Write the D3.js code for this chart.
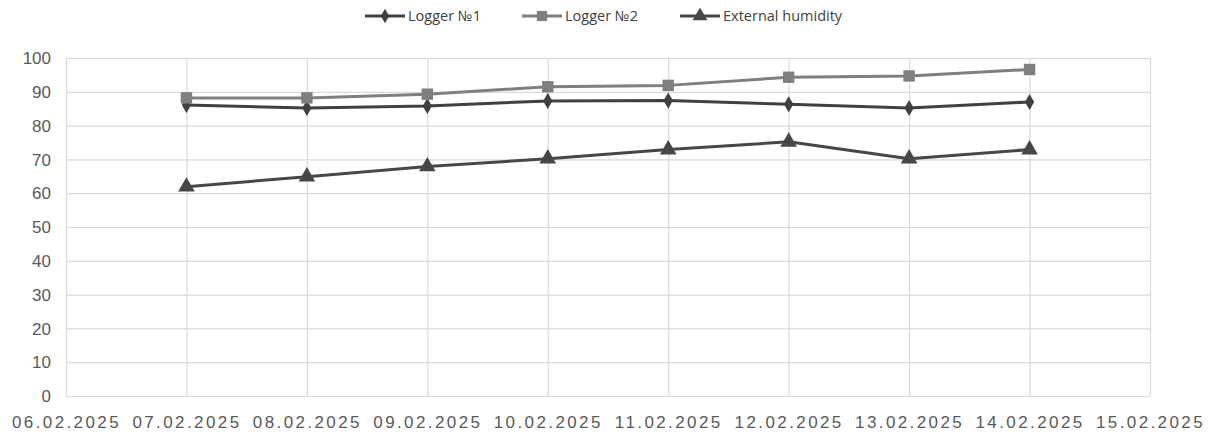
<!DOCTYPE html>
<html>
<head>
<meta charset="utf-8">
<script src="https://cdn.jsdelivr.net/npm/d3@7"></script>
<style>
  html, body { margin: 0; padding: 0; background: #fff; }
  svg { display: block; }
</style>
</head>
<body>
<svg id="chart" width="1212" height="435"></svg>
<script>
// Axis categories (one gridline per day)
const dates = ["06.02.2025", "07.02.2025", "08.02.2025", "09.02.2025", "10.02.2025",
               "11.02.2025", "12.02.2025", "13.02.2025", "14.02.2025", "15.02.2025"];
// Days that carry measurements
const measuredDates = ["07.02.2025", "08.02.2025", "09.02.2025", "10.02.2025",
                       "11.02.2025", "12.02.2025", "13.02.2025", "14.02.2025"];
// Relative humidity, %
const logger1 = [86.1, 85.2, 85.8, 87.3, 87.4, 86.3, 85.2, 87.0];
const logger2 = [88.2, 88.2, 89.3, 91.5, 91.9, 94.3, 94.7, 96.6];
const external = [61.9, 64.9, 67.9, 70.2, 72.9, 75.2, 70.2, 72.9];
const yTicks = [0, 10, 20, 30, 40, 50, 60, 70, 80, 90, 100];
const seriesNames = ["Logger №1", "Logger №2", "External humidity"];

const svg = d3.select("#chart");
const x = d3.scalePoint().domain(dates).range([66, 1150]).padding(0);
const y = d3.scaleLinear().domain([0, 100]).range([396, 58]);

const gridColor = "#d9d9d9";
const tickColor = "#595959";

// Horizontal gridlines
svg.append("g")
  .attr("transform", "translate(66,0)")
  .call(d3.axisLeft(y).tickValues(yTicks).tickSize(-(1150 - 66)).tickFormat(d => d))
  .call(g => g.select(".domain").remove())
  .call(g => g.selectAll(".tick line").attr("stroke", gridColor).attr("stroke-width", 1.2))
  .call(g => g.selectAll(".tick text")
    .attr("x", -15).attr("dy", "0.34em")
    .attr("fill", tickColor)
    .style("font-family", "'Liberation Sans', Arial, sans-serif")
    .style("font-size", "17px"));

// Vertical gridlines and date labels
svg.append("g")
  .attr("transform", "translate(0,396)")
  .call(d3.axisBottom(x).tickSize(-(396 - 58)))
  .call(g => g.select(".domain").remove())
  .call(g => g.selectAll(".tick line").attr("stroke", gridColor).attr("stroke-width", 1.2))
  .call(g => g.selectAll(".tick text")
    .attr("y", 20).attr("dy", "0.71em")
    .attr("fill", tickColor)
    .style("font-family", "'Liberation Sans', Arial, sans-serif")
    .style("font-size", "17px")
    .style("letter-spacing", "2.4px"));

const series = [
  { name: seriesNames[0], values: logger1, color: "#404040", symbol: d3.symbolDiamond, size: 75 },
  { name: seriesNames[1], values: logger2, color: "#7f7f7f", symbol: d3.symbolSquare, size: 130 },
  { name: seriesNames[2], values: external, color: "#474747", symbol: d3.symbolTriangle, size: 120 }
];

const line = d3.line()
  .x((d, i) => x(measuredDates[i]))
  .y(d => y(d));

series.forEach(s => {
  svg.append("path")
    .datum(s.values)
    .attr("fill", "none")
    .attr("stroke", s.color)
    .attr("stroke-width", 3)
    .attr("stroke-linejoin", "round")
    .attr("d", line);
  svg.append("g").selectAll("path")
    .data(s.values)
    .join("path")
    .attr("transform", (d, i) => `translate(${x(measuredDates[i])},${y(d)})`)
    .attr("d", d3.symbol().type(s.symbol).size(s.size))
    .attr("fill", s.color);
});

// Legend
const legendX = [365, 522, 680];
const legend = svg.append("g").attr("transform", "translate(0,16)");
series.forEach((s, i) => {
  const g = legend.append("g").attr("transform", `translate(${legendX[i]},0)`);
  g.append("line").attr("x1", 0).attr("x2", 40).attr("y1", 0).attr("y2", 0)
    .attr("stroke", s.color).attr("stroke-width", 3);
  g.append("path").attr("transform", "translate(20,0)")
    .attr("d", d3.symbol().type(s.symbol).size(s.size * 0.8))
    .attr("fill", s.color);
  g.append("text").attr("x", 43).attr("y", 0).attr("dy", "0.35em")
    .attr("fill", "#404040")
    .style("font-family", "'Open Sans', sans-serif")
    .style("font-size", "14.5px")
    .text(s.name);
});
</script>
</body>
</html>
